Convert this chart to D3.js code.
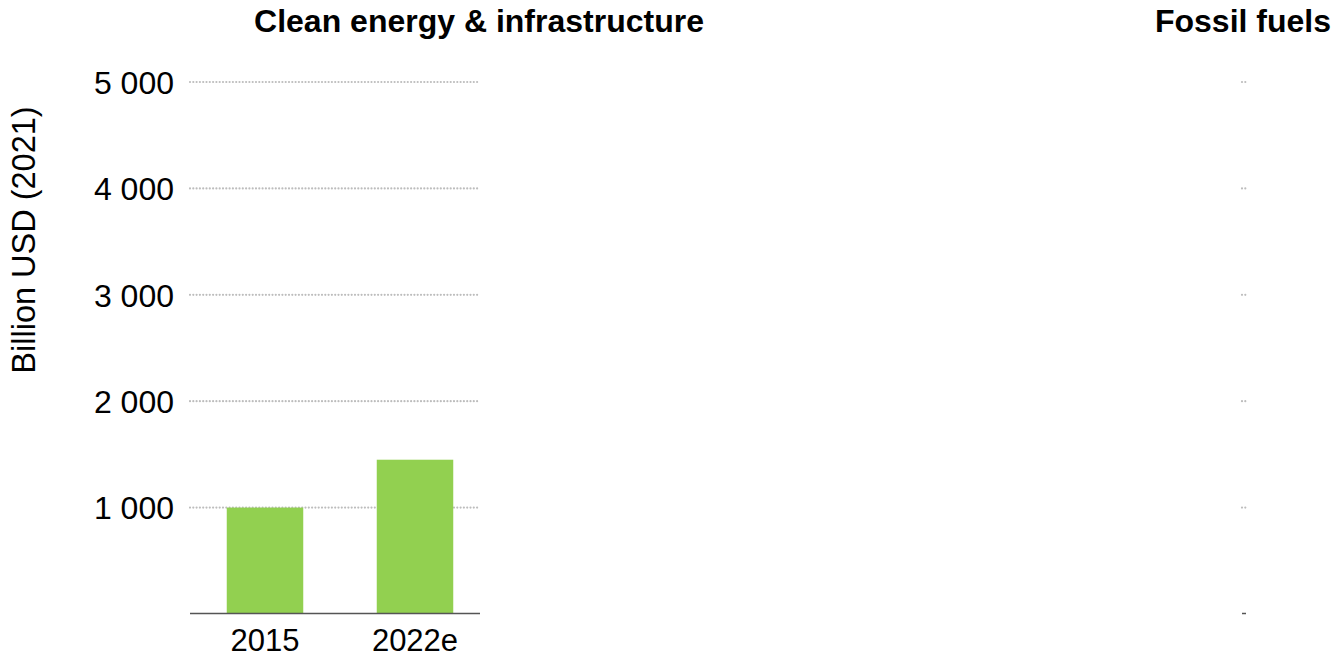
<!DOCTYPE html>
<html>
<head>
<meta charset="utf-8">
<script src="https://cdn.jsdelivr.net/npm/d3@7"></script>
<style>
  html, body { margin: 0; padding: 0; background: #fff; }
  svg { display: block; font-family: "Liberation Sans", Arial, Helvetica, sans-serif; }
</style>
</head>
<body>
<svg id="chart" width="1335" height="658"></svg>
<script>
// Investment by category, billion USD (2021)
const panelTitles = ["Clean energy & infrastructure", "Fossil fuels"];
const cleanYears = ["2015", "2022e"];
const cleanValues = [1000, 1450];
const yTicks = [1000, 2000, 3000, 4000, 5000];
const yTickLabels = ["1 000", "2 000", "3 000", "4 000", "5 000"];
const yLabel = "Billion USD (2021)";

const svg = d3.select("#chart");

const y = d3.scaleLinear().domain([0, 5000]).range([614, 82]);

// Left panel: clean energy bars
const left = { x0: 190, x1: 480 };
const x = d3.scaleBand()
  .domain(cleanYears)
  .range([190, 490])
  .paddingInner(0.49)
  .paddingOuter(0.245);

// Right panel: fossil fuels (narrow frame)
const right = { x0: 1242, x1: 1246 };

function gridAndBase(p) {
  svg.append("g")
    .selectAll("line")
    .data(yTicks)
    .join("line")
    .attr("x1", p.x0)
    .attr("x2", p.x1)
    .attr("y1", d => y(d))
    .attr("y2", d => y(d))
    .attr("stroke", "#bdbdbd")
    .attr("stroke-width", 2.2)
    .attr("stroke-linecap", "round")
    .attr("stroke-dasharray", "0 3.3");
}

gridAndBase(left);
gridAndBase(right);

// Bars
svg.append("g")
  .selectAll("rect")
  .data(cleanYears.map((c, i) => ({ c, v: cleanValues[i] })))
  .join("rect")
  .attr("x", d => x(d.c))
  .attr("width", x.bandwidth())
  .attr("y", d => y(d.v))
  .attr("height", d => y(0) - y(d.v))
  .attr("fill", "#92d050");

// Baselines
[left, right].forEach(p => {
  svg.append("line")
    .attr("x1", p.x0).attr("x2", p.x1)
    .attr("y1", y(0) - 0.5).attr("y2", y(0) - 0.5)
    .attr("stroke", "#555")
    .attr("stroke-width", 1.5);
});

// Y tick labels
svg.append("g")
  .selectAll("text")
  .data(yTicks)
  .join("text")
  .attr("x", 174)
  .attr("y", d => y(d))
  .attr("dy", "0.37em")
  .attr("text-anchor", "end")
  .attr("font-size", 32)
  .attr("fill", "#000")
  .text((d, i) => yTickLabels[i]);

// X tick labels
svg.append("g")
  .selectAll("text")
  .data(cleanYears)
  .join("text")
  .attr("x", d => x(d) + x.bandwidth() / 2)
  .attr("y", 651)
  .attr("text-anchor", "middle")
  .attr("font-size", 31)
  .attr("fill", "#000")
  .text(d => d);

// Panel titles
svg.append("text")
  .attr("x", 479).attr("y", 32)
  .attr("text-anchor", "middle")
  .attr("font-size", 32).attr("font-weight", "bold")
  .text(panelTitles[0]);

svg.append("text")
  .attr("x", 1243).attr("y", 32)
  .attr("text-anchor", "middle")
  .attr("font-size", 32).attr("font-weight", "bold")
  .text(panelTitles[1]);

// Y axis title
svg.append("text")
  .attr("transform", "translate(35.3,240) rotate(-90)")
  .attr("text-anchor", "middle")
  .attr("font-size", 32.5)
  .attr("fill", "#000")
  .text(yLabel);
</script>
</body>
</html>
